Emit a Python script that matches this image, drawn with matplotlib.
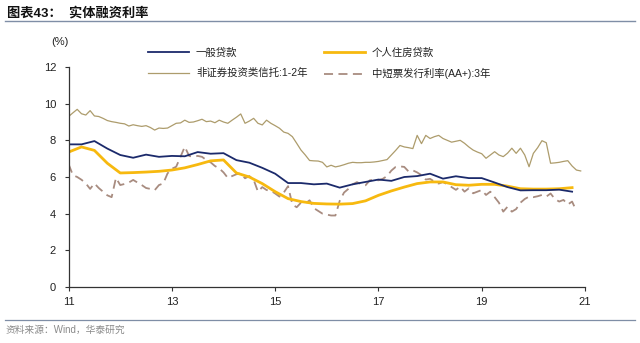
import numpy as np
import matplotlib
matplotlib.use("Agg")
import matplotlib.pyplot as plt

plt.rcParams['font.family'] = ['Liberation Sans', 'Noto Sans CJK SC', 'DejaVu Sans']

# ---------------- data ----------------
# quarterly (2011Q1 .. 2020Q4 positions)
loan_general = [7.78, 7.78, 7.96, 7.55, 7.20, 7.05, 7.22, 7.10, 7.15, 7.13,
                7.36, 7.27, 7.30, 6.92, 6.78, 6.50, 6.18, 5.67, 5.67, 5.60,
                5.64, 5.42, 5.60, 5.73, 5.86, 5.79, 6.00, 6.05, 6.18, 5.91,
                6.04, 5.94, 5.94, 5.70, 5.45, 5.27, 5.28, 5.28, 5.31, 5.20]
loan_mortgage = [7.36, 7.64, 7.45, 6.75, 6.22, 6.24, 6.27, 6.31, 6.38, 6.50,
                 6.68, 6.88, 6.93, 6.22, 6.00, 5.64, 5.20, 4.82, 4.66, 4.56,
                 4.53, 4.52, 4.55, 4.70, 5.00, 5.24, 5.45, 5.64, 5.73, 5.73,
                 5.58, 5.55, 5.60, 5.60, 5.50, 5.36, 5.34, 5.34, 5.36, 5.42]

# monthly, starting Jan 2011
trust_1_2y = [
    9.30, 9.50, 9.69, 9.45, 9.38, 9.62, 9.33, 9.30, 9.20, 9.08, 9.02, 8.98,   # 2011
    8.93, 8.90, 8.78, 8.85, 8.80, 8.76, 8.80, 8.70, 8.56, 8.67, 8.65, 8.67,   # 2012
    8.80, 8.93, 8.95, 9.10, 8.98, 9.00, 9.07, 9.15, 9.02, 9.05, 8.96, 9.10,   # 2013
    9.00, 8.93, 9.10, 9.26, 9.44, 8.93, 9.05, 9.20, 8.93, 8.84, 9.10, 8.93,   # 2014
    8.80, 8.66, 8.45, 8.38, 8.20, 7.84, 7.47, 7.20, 6.90, 6.88, 6.87, 6.80,   # 2015
    6.55, 6.64, 6.55, 6.60, 6.67, 6.75, 6.80, 6.78, 6.78, 6.80, 6.80, 6.82,   # 2016
    6.85, 6.90, 6.95, 7.20, 7.45, 7.72, 7.64, 7.60, 7.55, 8.27, 7.82, 8.27,   # 2017
    8.10, 8.20, 8.27, 8.10, 8.00, 7.90, 7.95, 8.00, 7.84, 7.64, 7.47, 7.36,   # 2018
    7.27, 7.02, 7.20, 7.38, 7.20, 7.11, 7.30, 7.57, 7.29, 7.57, 7.20, 6.56,   # 2019
    7.29, 7.60, 7.98, 7.87, 6.75, 6.77, 6.80, 6.85, 6.89, 6.60, 6.38, 6.33,   # 2020
]
bond_aa_3y = [
    6.70, 6.10, 6.00, 5.85, 5.65, 5.35, 5.65, 5.40, 5.20, 5.00, 4.90, 5.95,   # 2011
    5.56, 5.62, 5.70, 5.84, 5.70, 5.56, 5.40, 5.35, 5.28, 5.56, 5.65, 6.20,   # 2012
    6.45, 6.56, 7.10, 7.65, 7.15, 7.10, 7.15, 7.10, 6.93, 6.80, 6.60, 6.47,   # 2013
    6.25, 5.95, 6.05, 6.15, 6.20, 5.93, 6.05, 5.85, 5.20, 5.45, 5.29, 5.25,   # 2014
    5.10, 4.93, 5.15, 5.50, 4.50, 4.35, 4.60, 4.55, 4.73, 4.30, 4.15, 4.00,   # 2015
    3.95, 3.90, 3.90, 4.70, 5.15, 5.35, 5.60, 5.72, 5.60, 5.55, 5.82, 5.85,   # 2016
    5.82, 5.90, 6.05, 6.35, 6.55, 6.58, 6.55, 6.30, 6.36, 6.25, 6.10, 5.86,   # 2017
    5.90, 5.75, 5.64, 5.73, 5.60, 5.45, 5.30, 5.47, 5.20, 5.38, 5.11, 5.20,   # 2018
    5.29, 5.02, 5.20, 4.90, 4.60, 4.11, 4.38, 4.11, 4.25, 4.60, 4.80, 4.93,   # 2019
    4.90, 4.95, 5.02, 4.93, 5.10, 4.80, 4.66, 4.75, 4.50, 4.66, 4.15,         # 2020
]

labels = ['一般贷款', '非证券投资类信托:1-2年', '个人住房贷款', '中短票发行利率(AA+):3年']
x_ticks = [11, 13, 15, 17, 19, 21]
y_ticks = [0, 2, 4, 6, 8, 10, 12]

# x positions (two-digit years as decimal)
xq = 11 + np.arange(len(loan_general)) * 0.25
xm_t = 11 + np.arange(len(trust_1_2y)) / 12.0
xm_b = 11 + np.arange(len(bond_aa_3y)) / 12.0

# ---------------- figure ----------------
fig = plt.figure(figsize=(6.4, 3.43), dpi=100)
ax = fig.add_axes([68.6 / 640, (343 - 287) / 343, (585 - 68.6) / 640, 220 / 343])

c_navy = '#1b2a6b'
c_yellow = '#f7b90f'
c_trust = '#ad9c6c'
c_bond = '#a88c80'

l_trust, = ax.plot(xm_t, trust_1_2y, color=c_trust, lw=0.9)
l_bond, = ax.plot(xm_b, bond_aa_3y, color=c_bond, lw=1.3, dashes=(5, 3))
l_mort, = ax.plot(xq, loan_mortgage, color=c_yellow, lw=2.0)
l_gen, = ax.plot(xq, loan_general, color=c_navy, lw=1.3)

ax.set_xlim(11, 21)
ax.set_ylim(0, 12)
ax.set_xticks(x_ticks)
ax.set_xticklabels([str(v) for v in x_ticks])
ax.set_yticks(y_ticks)
for s in ['top', 'right']:
    ax.spines[s].set_visible(False)
for s in ['left', 'bottom']:
    ax.spines[s].set_color('#333333')
    ax.spines[s].set_linewidth(0.9)
ax.tick_params(axis='both', direction='out', length=3, width=0.8, color='#333333',
               labelsize=8, labelcolor='#222222')
ax.tick_params(axis='y', pad=6)
ax.tick_params(axis='x', pad=4)

leg = ax.legend([l_gen, l_trust, l_mort, l_bond], labels, ncol=2, frameon=False,
                loc='upper left', bbox_to_anchor=(148 / 640, 1 - 47.5 / 343),
                bbox_transform=fig.transFigure, fontsize=7.5, handlelength=3.9,
                handletextpad=0.7, columnspacing=1.6, labelspacing=1.0,
                borderpad=0, borderaxespad=0)
for t in leg.get_texts():
    t.set_color('#222222')

# texts and decorative rules
fig.text(60 / 640, 1 - 42.3 / 343, '(%)', ha='center', va='center', fontsize=8, color='#222222')
fig.text(7 / 640, 1 - 12.7 / 343, '图表43：  实体融资利率', ha='left', va='center',
         fontsize=9.5, fontweight='bold', color='#111111')
fig.add_artist(plt.Line2D([5 / 640, 635 / 640], [1 - 21 / 343, 1 - 21 / 343],
                          transform=fig.transFigure, color='#7f8ea6', lw=1.0))
fig.add_artist(plt.Line2D([5 / 640, 635 / 640], [1 - 319.5 / 343, 1 - 319.5 / 343],
                          transform=fig.transFigure, color='#7f8ea6', lw=0.9))
fig.text(6 / 640, 1 - 329.5 / 343, '资料来源：Wind，华泰研究', ha='left', va='center',
         fontsize=7, color='#8a8a8a')

fig.savefig('out.png', dpi=100)
